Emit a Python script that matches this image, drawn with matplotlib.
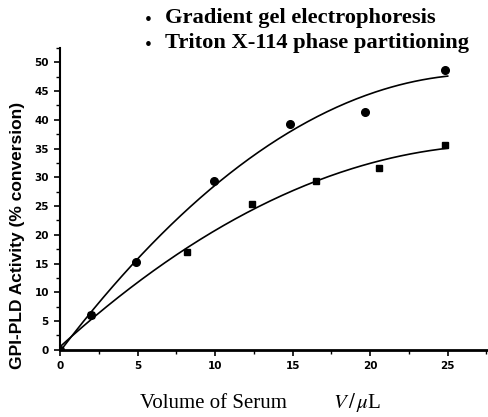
import numpy as np
import matplotlib.pyplot as plt
from matplotlib.ticker import MultipleLocator

plt.rcParams["mathtext.fontset"] = "stix"

# data
gel_x = [0, 2.0, 4.9, 9.9, 14.8, 19.7, 24.8]
gel_y = [0, 6.0, 15.2, 29.3, 39.3, 41.4, 48.7]
triton_x = [0, 2.0, 8.2, 12.4, 16.5, 20.6, 24.8]
triton_y = [0, 6.0, 17.1, 25.3, 29.4, 31.7, 35.6]
series_names = ["Gradient gel electrophoresis", "Triton X-114 phase partitioning"]

fig = plt.figure(figsize=(4.88, 4.17), dpi=100)
ax = fig.add_axes([0.123, 0.161, 0.877, 0.724])

# smooth fitted curves (quadratic through the points)
xs = np.linspace(0, 25, 200)
for x, y in [(gel_x, gel_y), (triton_x, triton_y)]:
    c = np.polyfit(x, y, 2)
    ax.plot(xs, np.polyval(c, xs), color="black", lw=1.2)

ax.plot(gel_x, gel_y, "o", color="black", ms=5.5)
ax.plot(triton_x, triton_y, "s", color="black", ms=5)

ax.set_xlim(0, 27.6)
ax.set_ylim(0, 52.5)
ax.xaxis.set_major_locator(MultipleLocator(5))
ax.xaxis.set_minor_locator(MultipleLocator(2.5))
ax.yaxis.set_major_locator(MultipleLocator(5))
ax.yaxis.set_minor_locator(MultipleLocator(2.5))
ax.spines["top"].set_visible(False)
ax.spines["right"].set_visible(False)
ax.spines["bottom"].set_linewidth(2)
ax.spines["left"].set_linewidth(1.5)
ax.tick_params(which="major", length=4, width=1.2, labelsize=7.5, pad=4)
ax.tick_params(which="minor", length=3, width=1)
for lab in ax.get_xticklabels() + ax.get_yticklabels():
    lab.set_fontweight("bold")

ax.set_ylabel("GPI-PLD Activity (% conversion)", fontsize=12.5, fontweight="bold",
              family="Liberation Sans")
ax.yaxis.set_label_coords(-0.083, 0.38)

fig.text(0.287, 0.022, "Volume of Serum", fontsize=15, family="Liberation Serif")
fig.text(0.683, 0.022, r"$V\,/\,\mu$L", fontsize=15, family="Liberation Serif")

# legend text at top
for i, name in enumerate(series_names):
    yy = 0.958 - i * 0.06
    fig.text(0.297, yy - 0.006, "\u2022", fontsize=14, va="center", family="Liberation Serif")
    fig.text(0.338, yy, name, fontsize=16.2, va="center", fontweight="bold",
             family="Liberation Serif")

fig.savefig("out.png", dpi=100)
